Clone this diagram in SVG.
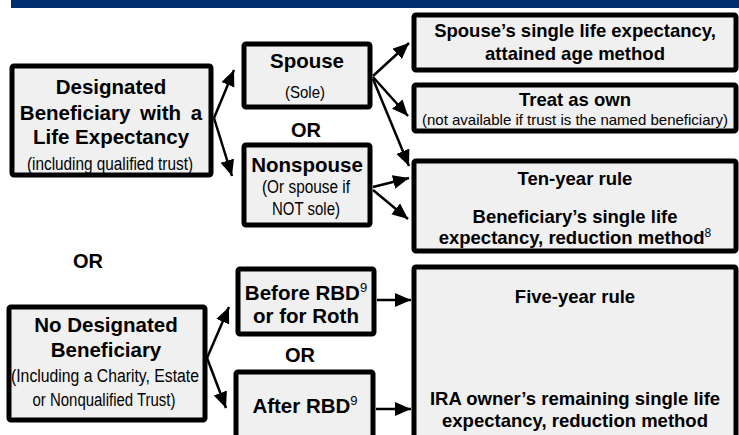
<svg xmlns="http://www.w3.org/2000/svg" width="739" height="435" viewBox="0 0 739 435">
<defs>
<marker id="ah" markerUnits="userSpaceOnUse" markerWidth="18" markerHeight="16" refX="16" refY="7" orient="auto">
<path d="M0,0 L16,7 L0,14 z" fill="#000"/>
</marker>
<style>
.box{fill:#f0f0f0;stroke:#000;stroke-width:5}
.b{font-family:"Liberation Sans",Arial,sans-serif;font-weight:bold;fill:#000;text-anchor:middle}
.r{font-family:"Liberation Sans",Arial,sans-serif;fill:#000;text-anchor:middle}
.c line{stroke:#000;stroke-width:2.5;marker-end:url(#ah)}
</style>
</defs>
<rect x="11" y="0" width="728" height="8" fill="#002e6e"/>

<g id="designated">
<rect class="box" x="12" y="66" width="199" height="109" rx="2"/>
<text class="b" x="111" y="94" font-size="20.5">Designated</text>
<text class="b" x="111" y="120" font-size="20.5" word-spacing="4">Beneficiary with a</text>
<text class="b" x="111" y="144" font-size="20.5">Life Expectancy</text>
<text class="r" x="110" y="170" font-size="18" textLength="166" lengthAdjust="spacingAndGlyphs">(including qualified trust)</text>
</g>

<g id="spouse">
<rect class="box" x="244" y="44" width="126" height="63" rx="2"/>
<text class="b" x="307" y="68" font-size="20.5">Spouse</text>
<text class="r" x="305" y="98" font-size="17" textLength="40" lengthAdjust="spacingAndGlyphs">(Sole)</text>
</g>

<text class="b" x="306" y="137" font-size="20">OR</text>

<g id="nonspouse">
<rect class="box" x="244" y="145" width="126" height="80" rx="2"/>
<text class="b" x="307" y="172" font-size="20.5">Nonspouse</text>
<text class="r" x="306" y="193" font-size="18" textLength="88" lengthAdjust="spacingAndGlyphs">(Or spouse if</text>
<text class="r" x="306" y="215" font-size="18" textLength="68" lengthAdjust="spacingAndGlyphs">NOT sole)</text>
</g>

<g id="spouse-life">
<rect class="box" x="414" y="15" width="322" height="55" rx="2"/>
<text class="b" x="575" y="37" font-size="18.5">Spouse’s single life expectancy,</text>
<text class="b" x="575" y="60" font-size="18.5">attained age method</text>
</g>

<g id="treat-own">
<rect class="box" x="414" y="85" width="322" height="46" rx="2"/>
<text class="b" x="575" y="106" font-size="18.5">Treat as own</text>
<text class="r" x="575" y="125" font-size="15" textLength="306" lengthAdjust="spacingAndGlyphs">(not available  if trust is the named beneficiary)</text>
</g>

<g id="ten-year">
<rect class="box" x="414" y="161" width="322" height="90" rx="2"/>
<text class="b" x="575" y="185" font-size="18.5">Ten-year rule</text>
<text class="b" x="575" y="223" font-size="18.5">Beneficiary’s single life</text>
<text class="b" x="575" y="244" font-size="18.5">expectancy, reduction method<tspan font-weight="normal" font-size="12" dy="-7">8</tspan></text>
</g>

<text class="b" x="88" y="268" font-size="20">OR</text>

<g id="no-designated">
<rect class="box" x="9" y="307" width="196" height="113" rx="2"/>
<text class="b" x="106" y="332" font-size="20.5">No Designated</text>
<text class="b" x="106" y="357" font-size="20.5">Beneficiary</text>
<text class="r" x="105" y="382" font-size="18" textLength="188" lengthAdjust="spacingAndGlyphs">(Including a Charity, Estate</text>
<text class="r" x="104" y="406" font-size="18" textLength="143" lengthAdjust="spacingAndGlyphs">or Nonqualified Trust)</text>
</g>

<g id="before-rbd">
<rect class="box" x="238" y="269" width="136" height="65" rx="2"/>
<text class="b" x="306" y="300" font-size="20.5">Before RBD<tspan font-weight="normal" font-size="13" dy="-8">9</tspan></text>
<text class="b" x="306" y="323" font-size="20.5">or for Roth</text>
</g>

<text class="b" x="300" y="362" font-size="20">OR</text>

<g id="after-rbd">
<rect class="box" x="236" y="372" width="137" height="80" rx="2"/>
<text class="b" x="305" y="413" font-size="20.5">After RBD<tspan font-weight="normal" font-size="13" dy="-8">9</tspan></text>
</g>

<g id="five-year">
<rect class="box" x="414" y="267" width="322" height="190" rx="2"/>
<text class="b" x="575" y="303" font-size="18.5">Five-year rule</text>
<text class="b" x="575" y="405" font-size="18.5">IRA owner’s remaining single life</text>
<text class="b" x="575" y="427" font-size="18.5">expectancy, reduction method</text>
</g>

<g id="connectors" class="c">
<line x1="214" y1="118" x2="234" y2="70"/>
<line x1="214" y1="118" x2="232" y2="176"/>
<line x1="373" y1="76" x2="409" y2="43"/>
<line x1="373" y1="77" x2="408" y2="116"/>
<line x1="373" y1="79" x2="409" y2="166"/>
<line x1="373" y1="187" x2="409" y2="178"/>
<line x1="373" y1="190" x2="408" y2="219"/>
<line x1="377" y1="300" x2="411" y2="300"/>
<line x1="376" y1="409" x2="411" y2="409"/>
<line x1="207" y1="358" x2="229" y2="307"/>
<line x1="207" y1="358" x2="226" y2="408"/>
</g>
</svg>
